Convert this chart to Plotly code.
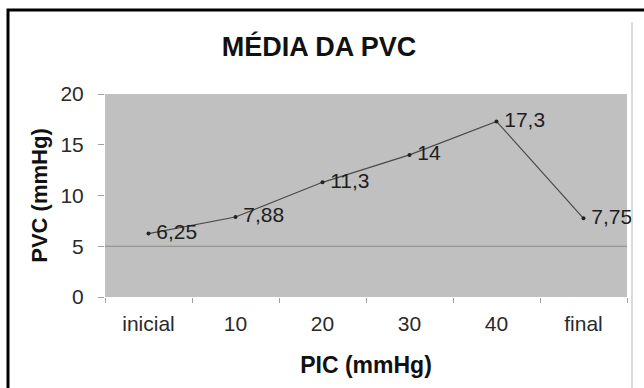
import plotly.graph_objects as go

categories = ["inicial", "10", "20", "30", "40", "final"]
pvc_values = [6.25, 7.88, 11.3, 14, 17.3, 7.75]
point_labels = ["6,25", "7,88", "11,3", "14", "17,3", "7,75"]
y_ticks = [0, 5, 10, 15, 20]

W, H = 644, 388
L, R, T, B = 105, 17, 94, 91
pw, ph = W - L - R, H - T - B
FONT = "Liberation Sans, Arial"

def px_x(x):
    return (x - L) / pw

def px_y(y):
    return (H - B - y) / ph

fig = go.Figure()
fig.add_trace(go.Scatter(
    x=categories, y=pvc_values, mode="lines+markers+text",
    text=["\u2009" + t for t in point_labels], textposition="middle right",
    textfont=dict(family=FONT, size=21, color="#1e1e1e"),
    line=dict(color="#4a4a4a", width=1.2),
    marker=dict(symbol="circle", size=4, color="#222222"),
    cliponaxis=False, showlegend=False,
))

fig.update_layout(
    width=W, height=H,
    margin=dict(l=L, r=R, t=T, b=B),
    paper_bgcolor="white", plot_bgcolor="#c0c0c0",
    font=dict(family=FONT, color="#222222"),
    title=dict(text="<b>MÉDIA DA PVC</b>", x=(319 / W), xanchor="center",
               y=1 - 47 / H, yanchor="middle",
               font=dict(size=27, color="#111111")),
    xaxis=dict(
        type="category", range=[-0.5, 5.5], showgrid=False,
        ticks="outside", tickson="boundaries", ticklen=5, tickcolor="#a0a0a0",
        tickfont=dict(size=21, color="#2a2a2a"), ticklabelstandoff=12,
        title=dict(text="<b>PIC (mmHg)</b>", font=dict(size=23, color="#111111"), standoff=22),
        showline=False, zeroline=False,
    ),
    yaxis=dict(
        range=[0, 20], tickvals=y_ticks, showgrid=False, zeroline=False,
        ticks="outside", ticklen=6, tickcolor="#a0a0a0",
        tickfont=dict(size=21, color="#2a2a2a"), ticklabelstandoff=10,
        title=dict(text="<b>PVC (mmHg)</b>", font=dict(size=22, color="#111111"), standoff=6),
        showline=False,
    ),
    shapes=[
        dict(type="line", xref="paper", yref="y", x0=0, x1=1, y0=5, y1=5,
             line=dict(color="#8a8a8a", width=1.2)),
        dict(type="line", xref="paper", yref="paper", x0=px_x(632), x1=px_x(632),
             y0=px_y(22), y1=px_y(388), line=dict(color="#cfcfcf", width=1.5)),
        dict(type="rect", xref="paper", yref="paper", x0=px_x(8), x1=px_x(660),
             y0=px_y(400), y1=px_y(10), line=dict(color="black", width=3),
             fillcolor="rgba(0,0,0,0)", layer="above"),
    ],
)

fig.write_html("out.html")
